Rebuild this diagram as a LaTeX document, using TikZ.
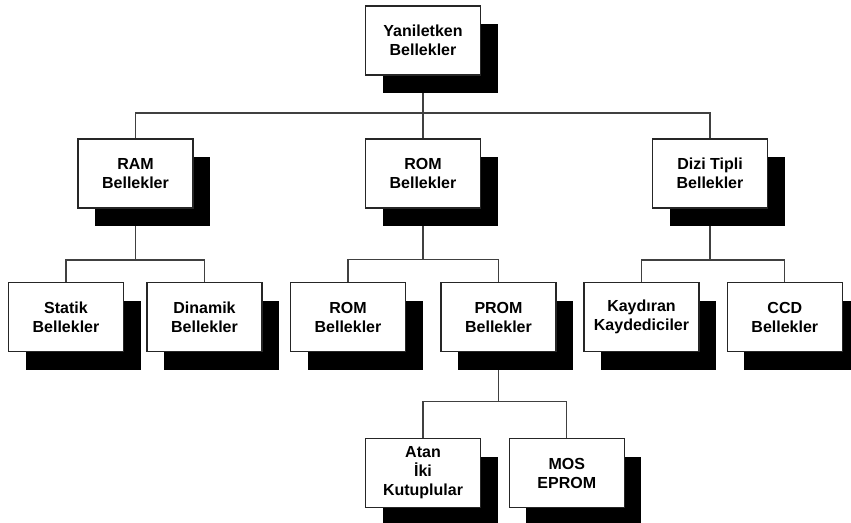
\documentclass[tikz,border=0pt]{standalone}
\usepackage{fontspec}
\setmainfont{Liberation Sans}
\usetikzlibrary{shadows}
\pgfdeclarelayer{bg}
\pgfsetlayers{bg,main}
\begin{document}
\begin{tikzpicture}[x=1pt,y=-1pt,
  membox/.style={draw=black!85, line width=1.2pt, fill=white,
    minimum width=115pt, minimum height=69pt, inner sep=0pt, align=center,
    font=\bfseries\fontsize{16}{19}\selectfont,
    general shadow={shadow xshift=17pt, shadow yshift=-18pt, fill=black}},
  link/.style={draw=black!75, line width=1.2pt}]
\useasboundingbox (0,0) rectangle (851,522);
\clip (0,0) rectangle (851,522);
\node[membox] (top) at (423,40.5) {Yaniletken\\Bellekler};
\node[membox] (ram) at (135.5,173.5) {RAM\\Bellekler};
\node[membox] (rom) at (423,173.5) {ROM\\Bellekler};
\node[membox] (dizi) at (710,173.5) {Dizi Tipli\\Bellekler};
\node[membox] (statik) at (66,317) {Statik\\Bellekler};
\node[membox] (dinamik) at (204.5,317) {Dinamik\\Bellekler};
\node[membox] (romb) at (348,317) {ROM\\Bellekler};
\node[membox] (prom) at (498.5,317) {PROM\\Bellekler};
\node[membox] (kay) at (641.5,317) {Kaydıran\\Kaydediciler};
\node[membox] (ccd) at (784.8,317) {CCD\\Bellekler};
\node[membox] (atan) at (423,473) {Atan\\İki\\Kutuplular};
\node[membox] (mos) at (566.8,473) {MOS\\EPROM};
\coordinate (b0) at (423,113);
\coordinate (b1) at (135.5,260);
\coordinate (b2) at (423,259.5);
\coordinate (b3) at (710,260);
\coordinate (b4) at (498.5,401.5);
\begin{pgfonlayer}{bg}
\draw[link] (top.south) -- (b0) -| (ram.north);
\draw[link] (b0) -| (dizi.north);
\draw[link] (b0) -- (rom.north);
\draw[link] (ram.south) -- (b1) -| (statik.north);
\draw[link] (b1) -| (dinamik.north);
\draw[link] (rom.south) -- (b2) -| (romb.north);
\draw[link] (b2) -| (prom.north);
\draw[link] (dizi.south) -- (b3) -| (kay.north);
\draw[link] (b3) -| (ccd.north);
\draw[link] (prom.south) -- (b4) -| (atan.north);
\draw[link] (b4) -| (mos.north);
\end{pgfonlayer}
\end{tikzpicture}
\end{document}
